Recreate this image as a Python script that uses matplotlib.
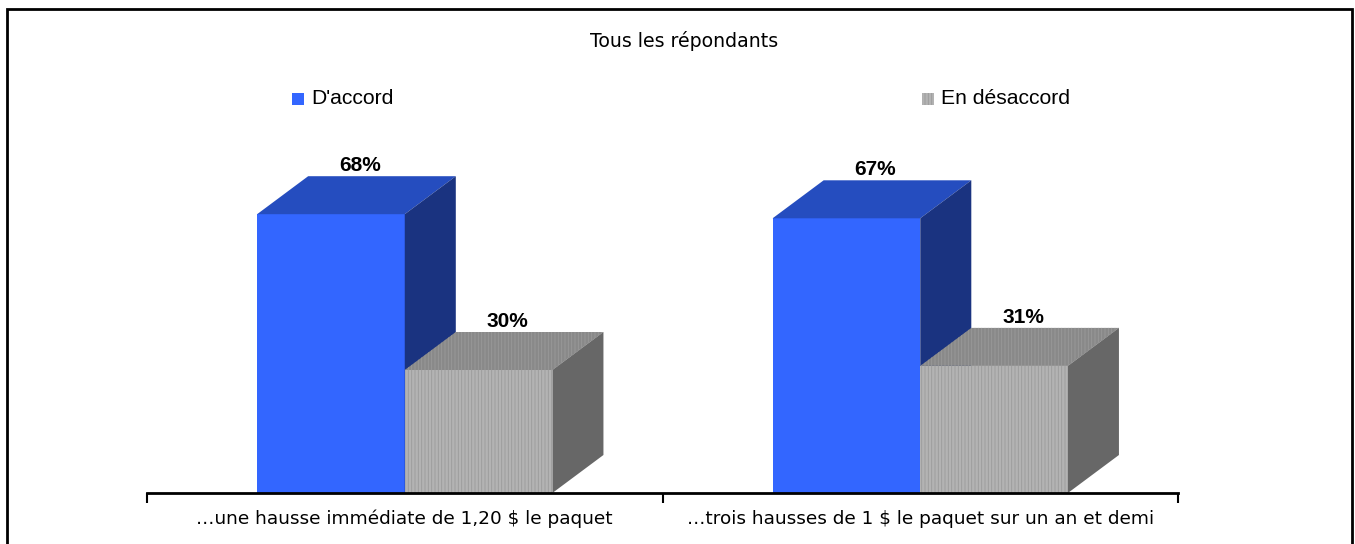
import matplotlib
matplotlib.use("Agg")
import matplotlib.pyplot as plt
from matplotlib.patches import Polygon, Rectangle

# ---------------- data ----------------
title = "Tous les répondants"
categories = ["…une hausse immédiate de 1,20 $ le paquet",
              "…trois hausses de 1 $ le paquet sur un an et demi"]
series_names = ["D'accord", "En désaccord"]
agree = [68, 67]
disagree = [30, 31]

# ---------------- style ----------------
W, H = 1355, 544
plt.rcParams["hatch.linewidth"] = 0.6
fig = plt.figure(figsize=(W / 100, H / 100), dpi=100)
fig.patch.set_facecolor("white")

ax = fig.add_axes([147 / W, (H - 493) / H, (1178 - 147) / W, 410 / H])
ax.set_xlim(-0.5, 1.5)
ax.set_ylim(0, 100)
ax.set_facecolor("none")

bw = 147.5 / 515.0      # bar width in category units
ddx = 51 / 515.0        # 3-D depth offset (x, category units)
ddy = 38 / 4.1          # 3-D depth offset (y, percent units)

styles = [
    dict(front="#3366ff", top="#254dbf", side="#1a3380", hatch=None, hc=None),
    dict(front="#b3b3b3", top="#898989", side="#676767", hatch="|||||", hc="#9a9a9a"),
]


def draw_bar(x0, val, st, z):
    if st["hatch"]:
        ax.bar(x0, val, width=bw, align="edge", color=st["front"],
               edgecolor=st["hc"], hatch=st["hatch"], linewidth=0, zorder=z)
    else:
        ax.bar(x0, val, width=bw, align="edge", color=st["front"],
               linewidth=0, zorder=z)
    top = Polygon([(x0, val), (x0 + bw, val), (x0 + bw + ddx, val + ddy),
                   (x0 + ddx, val + ddy)], closed=True, facecolor=st["top"],
                  edgecolor=st["hc"] if st["hatch"] else "none",
                  hatch=st["hatch"], linewidth=0, zorder=z)
    side = Polygon([(x0 + bw, 0), (x0 + bw + ddx, ddy), (x0 + bw + ddx, val + ddy),
                    (x0 + bw, val)], closed=True, facecolor=st["side"],
                   linewidth=0, zorder=z)
    ax.add_patch(top)
    ax.add_patch(side)
    ax.text(x0 + bw / 2 + ddx * 0.57, val + ddy + 0.3, f"{val}%",
            ha="center", va="bottom", fontsize=15, fontweight="bold",
            family="Liberation Sans", zorder=z + 0.5)


z = 2
for i, (a, d) in enumerate(zip(agree, disagree)):
    draw_bar(i - bw, a, styles[0], z)
    z += 1
    draw_bar(i, d, styles[1], z)
    z += 1

# axis
for s in ["left", "right", "top"]:
    ax.spines[s].set_visible(False)
ax.spines["bottom"].set_linewidth(2)
ax.spines["bottom"].set_zorder(20)
ax.set_yticks([])
ax.set_xticks([-0.5, 0.5, 1.5])
ax.set_xticklabels(["", "", ""])
ax.tick_params(axis="x", which="major", direction="out", length=7, width=1.5)
ax.set_xticks([0, 1], categories, minor=True)
ax.tick_params(axis="x", which="minor", length=0, pad=12, labelsize=13.3)
for lab in ax.get_xticklabels(minor=True):
    lab.set_family("DejaVu Sans")

# title
fig.text(684 / W, 1 - 41 / H, title, ha="center", va="center",
         fontsize=13.6, family="DejaVu Sans")

# legend
leg_x = [292, 922]
for lx, name, st in zip(leg_x, series_names, styles):
    fig.patches.append(Rectangle((lx / W, 1 - 105 / H), 12 / W, 12 / H,
                                 transform=fig.transFigure, facecolor=st["front"],
                                 edgecolor=st["hc"] if st["hatch"] else "none",
                                 hatch=st["hatch"], linewidth=0))
    fig.text((lx + 19) / W, 1 - 99 / H, name, ha="left", va="center",
             fontsize=15.2, family="Liberation Sans")

# outer border
fig.patches.append(Rectangle((7 / W, -0.02), (1352 - 7) / W, 1 - 9 / H + 0.02,
                             transform=fig.transFigure, facecolor="none",
                             edgecolor="black", linewidth=2))

fig.savefig("out.png", dpi=100)
